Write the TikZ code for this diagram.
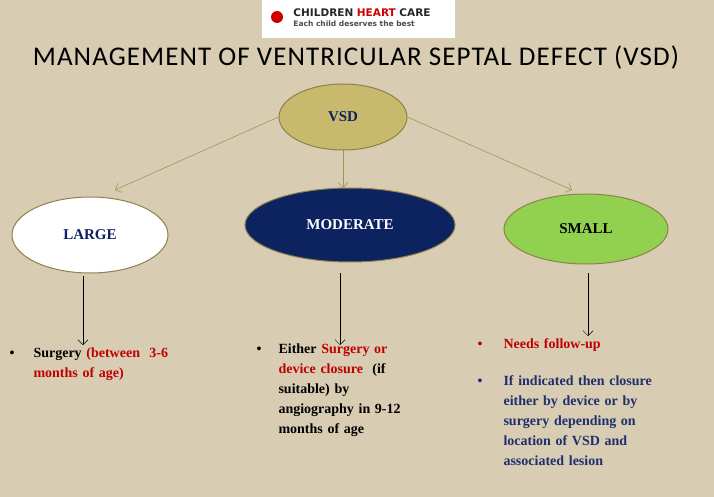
\documentclass[tikz,border=0pt]{standalone}
\usepackage{fontspec}
\setmainfont{Liberation Serif}
\newfontfamily\titlefont[LetterSpace=4]{Carlito}
\newfontfamily\logofont{DejaVu Sans}
\usetikzlibrary{arrows.meta,shapes.geometric}
\definecolor{paper}{HTML}{D8CCB2}
\definecolor{olive}{HTML}{C9B96C}
\definecolor{navy}{HTML}{0C2360}
\definecolor{leaf}{HTML}{92D050}
\definecolor{darkred}{HTML}{C00000}
\definecolor{darkblue}{HTML}{1F2F6E}
\begin{document}
\begin{tikzpicture}[
  x=1pt, y=-1pt,
  >={Straight Barb[length=5pt]},
  oval/.style={ellipse, draw=olive!70!black, line width=1pt, font=\bfseries\fontsize{15}{18}\selectfont},
  link/.style={->, draw=olive!80!black, line width=0.6pt},
  down/.style={->, line width=0.5pt},
  note/.style={anchor=north west, align=left, font=\bfseries\fontsize{14}{20}\selectfont}
]
\useasboundingbox[fill=paper] (0,0) rectangle (714,497);

% Logo and title
\fill[white] (262,0) rectangle (455,38);
\node (logo) at (362,19) {\logofont\bfseries\fontsize{10.5}{11}\selectfont
  \begin{tabular}{@{}l@{}}\textcolor{gray!30!black}{CHILDREN} \textcolor{red!80!black}{HEART} \textcolor{gray!30!black}{CARE}\\[-1pt]
  \fontsize{7.5}{8}\selectfont\textcolor{gray!60!black}{Each child deserves the best}\end{tabular}};
\fill[red!80!black] (277,17) circle (6);
\node (title) at (356,57) {\titlefont\fontsize{27}{30}\selectfont MANAGEMENT OF VENTRICULAR SEPTAL DEFECT (VSD)};

% Nodes
\node[oval, fill=olive, minimum width=128pt, minimum height=66pt, text=navy] (vsd) at (343,117) {VSD};
\node[oval, fill=white, minimum width=156pt, minimum height=76pt, text=navy] (large) at (90,235) {LARGE};
\node[oval, fill=navy, minimum width=210pt, minimum height=74pt, text=white] (moderate) at (350,225) {MODERATE};
\node[oval, fill=leaf, minimum width=164pt, minimum height=70pt, text=black] (small) at (586,229) {SMALL};

\coordinate (l1) at (83,276);  \coordinate (l2) at (83,345);
\coordinate (m1) at (340,273); \coordinate (m2) at (340,345);
\coordinate (s1) at (588,273); \coordinate (s2) at (588,336);

% Arrows
\draw[link] (vsd.west) -- (115,190);
\draw[link] (vsd.south) -- (343,188);
\draw[link] (vsd.east) -- (572,190);
\draw[down] (l1) -- (l2);
\draw[down] (m1) -- (m2);
\draw[down] (s1) -- (s2);

% Texts
\node[note, text width=180pt] (tl) at (6,344) {\makebox[24pt][l]{\textbullet}Surgery \textcolor{darkred}{(between~~3-6}\\\hspace*{24pt}\textcolor{darkred}{months of age)}};
\node[note, text width=200pt] (tm) at (253,340) {\makebox[22pt][l]{\textbullet}Either \textcolor{darkred}{Surgery or}\\\hspace*{22pt}\textcolor{darkred}{device closure}~ (if\\\hspace*{22pt}suitable) by\\\hspace*{22pt}angiography in 9-12\\\hspace*{22pt}months of age};
\node[note, text width=240pt, text=darkred] (ts1) at (474,335) {\makebox[26pt][l]{\textbullet}Needs follow-up};
\node[note, text width=240pt, text=darkblue] (ts2) at (474,372) {\makebox[26pt][l]{\textbullet}If indicated then closure\\\hspace*{26pt}either by device or by\\\hspace*{26pt}surgery depending on\\\hspace*{26pt}location of VSD and\\\hspace*{26pt}associated lesion};
\end{tikzpicture}
\end{document}
